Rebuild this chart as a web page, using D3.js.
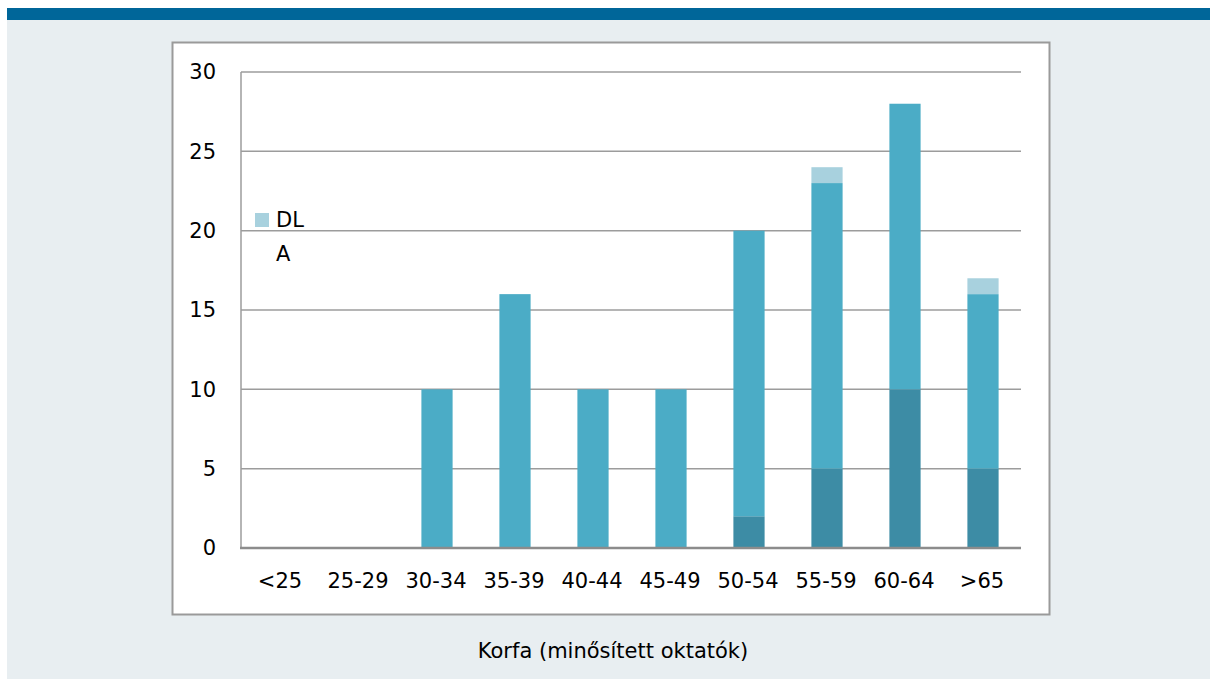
<!DOCTYPE html>
<html>
<head>
<meta charset="utf-8">
<script src="https://cdn.jsdelivr.net/npm/d3@7"></script>
<style>
  html, body { margin: 0; padding: 0; background: #ffffff; }
  svg { display: block; font-family: "DejaVu Sans", sans-serif; }
</style>
</head>
<body>
<svg id="chart" width="1210" height="679"></svg>
<script>
// Age bands of qualified teaching staff
const categories = ["<25", "25-29", "30-34", "35-39", "40-44", "45-49", "50-54", "55-59", "60-64", ">65"];
// Stacked series, bottom to top
const baseValues = [0, 0, 0, 0, 0, 0, 2, 5, 10, 5];
const aValues    = [0, 0, 10, 16, 10, 10, 18, 18, 18, 11];
const dlValues   = [0, 0, 0, 0, 0, 0, 0, 1, 0, 1];
const yTicks = [0, 5, 10, 15, 20, 25, 30];
const seriesNames = ["base", "A", "DL"];
const seriesColors = { base: "#3d8ca5", A: "#4bacc6", DL: "#a8d1de" };
const legendItems = ["DL", "A"];
const xTitle = "Korfa (minősített oktatók)";

const svg = d3.select("#chart");

// page background and header band
svg.append("rect").attr("x", 7).attr("y", 20).attr("width", 1203).attr("height", 659).attr("fill", "#e8eef1");
svg.append("rect").attr("x", 7).attr("y", 8).attr("width", 1203).attr("height", 12).attr("fill", "#006699");

// chart frame
svg.append("rect").attr("x", 172.5).attr("y", 42.5).attr("width", 877).attr("height", 572)
  .attr("fill", "#ffffff").attr("stroke", "#9a9a9a").attr("stroke-width", 2);

const plot = { left: 241, right: 1021, top: 72, bottom: 548 };

const x = d3.scaleBand().domain(categories).range([plot.left, plot.right]).paddingInner(0.6).paddingOuter(0.3);
const y = d3.scaleLinear().domain([0, 30]).range([plot.bottom, plot.top]);

// horizontal gridlines
svg.append("g").selectAll("line").data(yTicks.filter(d => d > 0)).join("line")
  .attr("x1", plot.left).attr("x2", plot.right)
  .attr("y1", d => y(d)).attr("y2", d => y(d))
  .attr("stroke", "#9c9c9c").attr("stroke-width", 1.5);

// vertical axis line
svg.append("line").attr("x1", plot.left).attr("x2", plot.left)
  .attr("y1", plot.top).attr("y2", plot.bottom)
  .attr("stroke", "#9c9c9c").attr("stroke-width", 1.5);

// stacked bars
const rows = categories.map((c, i) => ({ cat: c, base: baseValues[i], A: aValues[i], DL: dlValues[i] }));
const stacked = d3.stack().keys(seriesNames)(rows);
svg.append("g").selectAll("g").data(stacked).join("g")
  .attr("fill", d => seriesColors[d.key])
  .selectAll("rect").data(d => d).join("rect")
  .attr("x", d => x(d.data.cat) + 1)
  .attr("width", x.bandwidth())
  .attr("y", d => y(d[1]))
  .attr("height", d => y(d[0]) - y(d[1]));

// zero line
svg.append("line").attr("x1", plot.left - 1).attr("x2", plot.right)
  .attr("y1", y(0)).attr("y2", y(0))
  .attr("stroke", "#8c8c8c").attr("stroke-width", 2.5);

// y axis labels
const yAxis = d3.axisLeft(y).tickValues(yTicks).tickSize(0).tickPadding(0);
const yg = svg.append("g").attr("transform", `translate(216,0)`).call(yAxis);
yg.select(".domain").remove();
yg.selectAll("text").attr("font-size", 21).attr("fill", "#000").attr("font-family", "DejaVu Sans, sans-serif");

// x axis labels
const xAxis = d3.axisBottom(x).tickSize(0).tickPadding(0);
const xg = svg.append("g").attr("transform", `translate(0,573)`).call(xAxis);
xg.select(".domain").remove();
xg.selectAll("text").attr("font-size", 21).attr("fill", "#000").attr("font-family", "DejaVu Sans, sans-serif");

// legend
const lg = svg.append("g");
legendItems.forEach((name, i) => {
  const ly = 220 + i * 34;
  if (name === "DL") {
    lg.append("rect").attr("x", 255).attr("y", ly - 7).attr("width", 14).attr("height", 14).attr("fill", seriesColors[name]);
  }
  lg.append("text").attr("x", 276).attr("y", ly).attr("dy", "0.35em")
    .attr("font-size", 21).attr("fill", "#000").text(name);
});

// axis title
svg.append("text").attr("x", 613).attr("y", 651).attr("dy", "0.35em")
  .attr("text-anchor", "middle").attr("font-size", 21).attr("fill", "#000").text(xTitle);
</script>
</body>
</html>
